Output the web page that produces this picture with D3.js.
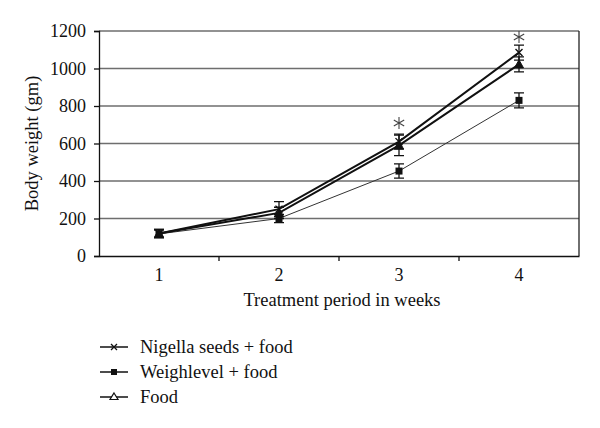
<!DOCTYPE html>
<html><head><meta charset="utf-8">
<script src="https://cdn.jsdelivr.net/npm/d3@7"></script>
<style>body{margin:0;background:#fff}svg{display:block}</style>
</head><body><svg id="c" width="600" height="428" font-family="Liberation Serif"></svg>
<script>
const weeks = ["1","2","3","4"];
const yTicks = [0,200,400,600,800,1000,1200];
const seriesNames = ["Nigella seeds + food","Weighlevel + food","Food"];
const nigella = [120, 250, 610, 1085];
const nigellaErr = [22, 40, 40, 40];
const weighlevel = [118, 200, 453, 830];
const weighlevelErr = [20, 22, 38, 40];
const food = [120, 230, 590, 1022];
const foodErr = [22, 30, 55, 40];
const starWeeks = ["3","4"];
const starValues = [709, 1168];

const FONT = "Liberation Serif";
const svg = d3.select("#c");
const L=99, R=579, T=31, B=256;
const x = d3.scaleBand().domain(weeks).range([L,R]);
const y = d3.scaleLinear().domain([0,1200]).range([B,T]);
const cx = w => x(w)+x.bandwidth()/2;

// gridlines
svg.append("g").selectAll("line").data(yTicks.filter(d=>d>0)).join("line")
  .attr("x1",L).attr("x2",R).attr("y1",d=>y(d)).attr("y2",d=>y(d))
  .attr("stroke","#6e6e6e").attr("stroke-width",1.3);
// right border
svg.append("line").attr("x1",R).attr("x2",R).attr("y1",T).attr("y2",B).attr("stroke","#222").attr("stroke-width",1.3);

// y axis
const ya = svg.append("g").attr("transform",`translate(${L},0)`)
  .call(d3.axisLeft(y).tickValues(yTicks).tickFormat(d3.format("d")).tickSize(5).tickPadding(8));
ya.attr("font-family",FONT).attr("font-size",18);
ya.select(".domain").attr("stroke","#111").attr("stroke-width",1.3);
ya.selectAll(".tick line").attr("stroke","#111").attr("stroke-width",1.3);
ya.selectAll("text").attr("fill","#111");

// x axis
const xa = svg.append("g").attr("transform",`translate(0,${B})`)
  .call(d3.axisBottom(x).tickSize(0).tickPadding(12));
xa.attr("font-family",FONT).attr("font-size",18);
xa.select(".domain").attr("stroke","#111").attr("stroke-width",1.3);
xa.selectAll("text").attr("fill","#111");
svg.append("g").selectAll("line").data(weeks.slice(1)).join("line")
  .attr("x1",d=>x(d)).attr("x2",d=>x(d)).attr("y1",B).attr("y2",B+5)
  .attr("stroke","#111").attr("stroke-width",1.3);

// titles
svg.append("text").attr("x",(L+R)/2 + 3).attr("y",306).attr("text-anchor","middle").attr("font-size",18.5).attr("font-family",FONT).attr("fill","#111").text("Treatment period in weeks");
svg.append("text").attr("transform",`translate(38,${(T+B)/2}) rotate(-90)`).attr("text-anchor","middle").attr("font-size",18.5).attr("font-family",FONT).attr("fill","#111").text("Body weight (gm)");

const series = [
  {name:seriesNames[0], vals:nigella, err:nigellaErr, w:2, color:"#111", marker:"x"},
  {name:seriesNames[1], vals:weighlevel, err:weighlevelErr, w:1, color:"#333", marker:"sq"},
  {name:seriesNames[2], vals:food, err:foodErr, w:2, color:"#111", marker:"tri"}
];
const line = d3.line().x((d,i)=>cx(weeks[i])).y(d=>y(d));

function drawMarker(g, type, px, py){
  if(type==="x"){
    g.append("path").attr("d",`M${px-3.5},${py-3.5}L${px+3.5},${py+3.5}M${px-3.5},${py+3.5}L${px+3.5},${py-3.5}`).attr("stroke","#111").attr("stroke-width",1.4);
  } else if(type==="sq"){
    g.append("rect").attr("x",px-3.5).attr("y",py-3.5).attr("width",7).attr("height",7).attr("fill","#111");
  } else {
    g.append("path").attr("d",`M${px},${py-4.5}L${px+4.5},${py+3.5}L${px-4.5},${py+3.5}Z`).attr("fill","#111").attr("stroke","#111");
  }
}

series.forEach(s=>{
  const g = svg.append("g");
  s.vals.forEach((v,i)=>{
    const px = cx(weeks[i]), e = s.err[i];
    g.append("path").attr("d",`M${px},${y(v-e)}V${y(v+e)}M${px-5},${y(v-e)}H${px+5}M${px-5},${y(v+e)}H${px+5}`)
      .attr("stroke","#111").attr("stroke-width",1.3).attr("fill","none");
  });
  g.append("path").datum(s.vals).attr("d",line).attr("fill","none").attr("stroke",s.color).attr("stroke-width",s.w);
  s.vals.forEach((v,i)=>drawMarker(g,s.marker,cx(weeks[i]),y(v)));
});

// significance stars (drawn asterisks)
const starR = 6;
svg.append("g").selectAll("path").data(starWeeks).join("path")
  .attr("d",(d,i)=>{
    const px=cx(d), py=y(starValues[i]);
    const dx=starR*Math.cos(Math.PI/6), dy=starR*Math.sin(Math.PI/6);
    return `M${px},${py-starR}V${py+starR}M${px-dx},${py-dy}L${px+dx},${py+dy}M${px-dx},${py+dy}L${px+dx},${py-dy}`;
  })
  .attr("stroke","#444").attr("stroke-width",1.1).attr("fill","none");

// legend
const lg = svg.append("g");
series.forEach((s,i)=>{
  const ly = 347 + i*25;
  lg.append("line").attr("x1",100).attr("x2",128).attr("y1",ly).attr("y2",ly).attr("stroke","#111").attr("stroke-width",1.5);
  if(s.marker==="x"){
    lg.append("path").attr("d",`M${111},${ly-3}L${117},${ly+3}M${111},${ly+3}L${117},${ly-3}`).attr("stroke","#111").attr("stroke-width",1.3);
  } else if(s.marker==="sq"){
    lg.append("rect").attr("x",111).attr("y",ly-3).attr("width",6).attr("height",6).attr("fill","#111");
  } else {
    lg.append("path").attr("d",`M114,${ly-4}L118,${ly+2.5}L110,${ly+2.5}Z`).attr("fill","#fff").attr("stroke","#111").attr("stroke-width",1.2);
  }
  lg.append("text").attr("x",140).attr("y",ly+6).attr("font-size",18.5).attr("font-family",FONT).attr("fill","#111").text(s.name);
});
</script></body></html>
